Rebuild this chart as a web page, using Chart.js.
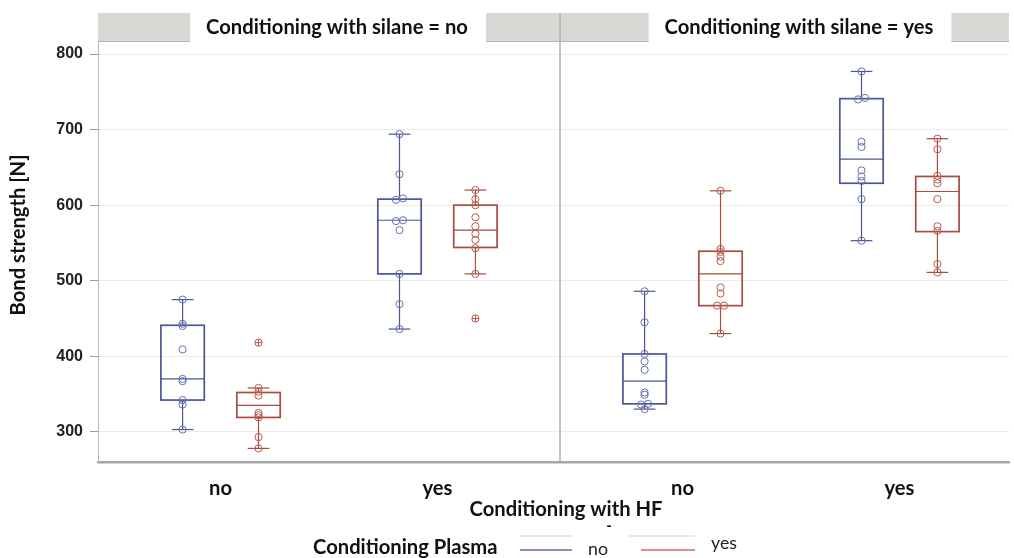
<!DOCTYPE html>
<html>
<head>
<meta charset="utf-8">
<script src="https://cdn.jsdelivr.net/npm/chart.js@4.4.0/dist/chart.umd.min.js"></script>
<style>
  html, body { margin: 0; padding: 0; background: #ffffff; }
  canvas { display: block; }
</style>
</head>
<body>
<canvas id="c" width="1014" height="558"></canvas>
<script>
// ---------------- DATA ----------------
const panelTitles = ['Conditioning with silane = no', 'Conditioning with silane = yes'];
const hfLabels = ['no', 'yes'];
const plasmaLabels = ['no', 'yes'];
const yTickValues = [300, 400, 500, 600, 700, 800];

// group order: [silane no / HF no, silane no / HF yes, silane yes / HF no, silane yes / HF yes]
const plasmaNoPoints = [
  [475, 443, 440, 409, 370, 367, 342, 336, 303],
  [694, 641, 609, 607, 580, 579, 567, 509, 469, 436],
  [486, 445, 403, 393, 382, 352, 349, 337, 336, 330],
  [777, 742, 740, 684, 677, 646, 638, 632, 608, 553]
];
const plasmaYesPoints = [
  [418, 358, 353, 348, 325, 322, 319, 293, 278],
  [620, 608, 600, 584, 572, 562, 554, 543, 509, 450],
  [619, 542, 538, 532, 526, 491, 483, 467, 467, 430],
  [688, 674, 639, 634, 629, 608, 572, 566, 522, 511]
];
const plasmaNoMin    = [303, 436, 330, 553];
const plasmaNoQ1     = [342, 509, 337, 629];
const plasmaNoMedian = [370, 580, 367, 661];
const plasmaNoQ3     = [441, 608, 403, 741];
const plasmaNoMax    = [475, 694, 486, 777];
const plasmaYesMin    = [278, 509, 430, 511];
const plasmaYesQ1     = [319, 544, 467, 565];
const plasmaYesMedian = [335, 567, 509, 618];
const plasmaYesQ3     = [352, 600, 539, 638];
const plasmaYesMax    = [358, 620, 619, 688];

// ---------------- LAYOUT / STYLE ----------------
const PANEL = 2.13, FIRST = 0.565, DODGE = 0.175, BOX_HW = 0.1, CAP_HW = 0.05, JIT = 0.016;
const X_MAX = 4.2, Y_MIN = 260, Y_MAX = 816;
const COLORS = {
  no:  { box: '#4a5597', pt: '#6570ad', legend: '#8a8fc0' },
  yes: { box: '#a74c3e', pt: '#b65b4d', legend: '#d3918a' }
};
const BOLD_FAMILY = 'Lato, "Open Sans", sans-serif';

function fitSize(text, target, weight, family) {
  const c = document.createElement('canvas').getContext('2d');
  c.font = weight + ' 100px ' + family;
  return 100 * target / c.measureText(text).width;
}
const BOLD_SIZE = fitSize('Conditioning with HF', 193, 'bold', BOLD_FAMILY);
const REG_SIZE = fitSize('yes', 26, 'normal', BOLD_FAMILY);

function groupX(g) { return Math.floor(g / 2) * PANEL + FIRST + (g % 2); }

const series = [
  { key: 'no', dodge: -DODGE, pts: plasmaNoPoints, min: plasmaNoMin, q1: plasmaNoQ1, med: plasmaNoMedian, q3: plasmaNoQ3, max: plasmaNoMax },
  { key: 'yes', dodge: DODGE, pts: plasmaYesPoints, min: plasmaYesMin, q1: plasmaYesQ1, med: plasmaYesMedian, q3: plasmaYesQ3, max: plasmaYesMax }
];

function buildPoints(s) {
  const normal = [], out = [];
  s.pts.forEach((vals, g) => {
    const cx = groupX(g) + s.dodge;
    const sorted = vals.slice().sort((a, b) => a - b);
    let i = 0;
    while (i < sorted.length) {
      let j = i;
      while (j + 1 < sorted.length && sorted[j + 1] - sorted[j] < 2.5) j++;
      const n = j - i + 1;
      for (let k = i; k <= j; k++) {
        const v = sorted[k];
        const pt = { x: cx + (k - i - (n - 1) / 2) * 2 * JIT, y: v };
        if (v > s.max[g] || v < s.min[g]) out.push(pt); else normal.push(pt);
      }
      i = j + 1;
    }
  });
  return { normal, out };
}

const datasets = [];
series.forEach(s => {
  const p = buildPoints(s);
  const c = COLORS[s.key];
  datasets.push({ label: s.key, data: p.normal, pointStyle: 'circle', pointRadius: 3.6, pointBorderWidth: 1,
    pointBorderColor: c.pt, pointBackgroundColor: 'rgba(0,0,0,0)', borderColor: c.pt });
  datasets.push({ label: s.key + ' outlier', data: p.out, pointStyle: 'circle', pointRadius: 3.6, pointBorderWidth: 1,
    pointBorderColor: c.pt, pointBackgroundColor: 'rgba(0,0,0,0)', borderColor: c.pt });
  datasets.push({ label: s.key + ' outlier cross', data: p.out, pointStyle: 'cross', pointRadius: 3.4, pointBorderWidth: 1,
    pointBorderColor: c.pt, borderColor: c.pt });
});

function seg(ctx, x1, y1, x2, y2) { ctx.beginPath(); ctx.moveTo(x1, y1); ctx.lineTo(x2, y2); ctx.stroke(); }

const boxPlugin = {
  id: 'boxes',
  beforeDatasetsDraw(chart) {
    const { ctx, scales: { x, y } } = chart;
    ctx.save();
    series.forEach(s => {
      ctx.strokeStyle = COLORS[s.key].box;
      for (let g = 0; g < s.q1.length; g++) {
        const cx = groupX(g) + s.dodge;
        const xl = x.getPixelForValue(cx - BOX_HW), xr = x.getPixelForValue(cx + BOX_HW);
        const xc = x.getPixelForValue(cx);
        const cl = x.getPixelForValue(cx - CAP_HW), cr = x.getPixelForValue(cx + CAP_HW);
        const yMin = y.getPixelForValue(s.min[g]), yQ1 = y.getPixelForValue(s.q1[g]);
        const yMed = y.getPixelForValue(s.med[g]), yQ3 = y.getPixelForValue(s.q3[g]);
        const yMax = y.getPixelForValue(s.max[g]);
        ctx.lineWidth = 1.2;
        seg(ctx, xc, yQ3, xc, yMax); seg(ctx, xc, yQ1, xc, yMin);
        seg(ctx, cl, yMax, cr, yMax); seg(ctx, cl, yMin, cr, yMin);
        ctx.lineWidth = 1.7;
        ctx.strokeRect(xl, yQ3, xr - xl, yQ1 - yQ3);
        ctx.lineWidth = 1.1;
        seg(ctx, xl, yMed, xr, yMed);
      }
    });
    ctx.restore();
  }
};

const framePlugin = {
  id: 'frame',
  afterDraw(chart) {
    const { ctx, chartArea: area, scales: { x } } = chart;
    ctx.save();
    const boldFont = 'bold ' + BOLD_SIZE.toFixed(2) + 'px ' + BOLD_FAMILY;
    // panel headers
    panelTitles.forEach((t, p) => {
      const left = x.getPixelForValue(p * PANEL);
      const fullRight = x.getPixelForValue((p + 1) * PANEL);
      const right = Math.min(fullRight, area.right);
      ctx.fillStyle = '#d8d9d4';
      ctx.fillRect(left, 13, right - left, 29);
      ctx.strokeStyle = '#b4b5b0'; ctx.lineWidth = 1;
      seg(ctx, left, 41.5, right, 41.5);
      const cx = (left + fullRight) / 2 + 8;
      ctx.font = boldFont;
      const w = ctx.measureText(t).width;
      ctx.fillStyle = '#ffffff';
      ctx.fillRect(cx - w / 2 - 16, 12, w + 34, 31);
      ctx.fillStyle = '#111111';
      ctx.textAlign = 'center'; ctx.textBaseline = 'alphabetic';
      ctx.fillText(t, cx, 34);
    });
    // panel divider
    const div = x.getPixelForValue(PANEL);
    ctx.strokeStyle = '#b0b0b0'; ctx.lineWidth = 1.5;
    seg(ctx, div, 13, div, area.bottom);
    // y title
    ctx.save();
    ctx.translate(25, 235);
    ctx.rotate(-Math.PI / 2);
    ctx.font = boldFont; ctx.fillStyle = '#111111';
    ctx.textAlign = 'center'; ctx.textBaseline = 'alphabetic';
    ctx.fillText('Bond strength [N]', 0, 0);
    ctx.restore();
    // x title
    ctx.font = boldFont; ctx.fillStyle = '#111111';
    ctx.textAlign = 'center'; ctx.textBaseline = 'alphabetic';
    ctx.fillText('Conditioning with HF', div + 6, 516);
    ctx.font = 'bold 15px ' + BOLD_FAMILY;
    ctx.fillText('-', 609, 531);
    // legend
    ctx.font = boldFont; ctx.textAlign = 'left';
    ctx.fillText('Conditioning Plasma', 313, 554);
    const legendItems = [
      { key: 'no', text: plasmaLabels[0], gx1: 520, lx1: 520, lx2: 572, tx: 588, ty: 555 },
      { key: 'yes', text: plasmaLabels[1], gx1: 629, lx1: 641, lx2: 695, tx: 711, ty: 549 }
    ];
    legendItems.forEach(it => {
      ctx.strokeStyle = '#e2e2e2'; ctx.lineWidth = 1.5;
      seg(ctx, it.gx1, 536, it.lx2, 536);
      ctx.strokeStyle = COLORS[it.key].legend; ctx.lineWidth = 2;
      seg(ctx, it.lx1, 550, it.lx2, 550);
      ctx.font = 'normal ' + REG_SIZE.toFixed(2) + 'px ' + BOLD_FAMILY;
      ctx.fillStyle = '#222222';
      ctx.fillText(it.text, it.tx, it.ty);
    });
    ctx.restore();
  }
};

const xTickPositions = [0, 1, 2, 3].map(groupX);
const xTickLabels = [hfLabels[0], hfLabels[1], hfLabels[0], hfLabels[1]];

new Chart(document.getElementById('c'), {
  type: 'scatter',
  data: { datasets },
  options: {
    responsive: false,
    animation: false,
    events: [],
    layout: { padding: { top: 42, left: 0, right: 0, bottom: 0 } },
    plugins: { legend: { display: false }, tooltip: { enabled: false } },
    scales: {
      x: {
        type: 'linear', min: 0, max: X_MAX,
        afterFit: s => { s.height = 96; },
        afterBuildTicks: s => { s.ticks = xTickPositions.map(v => ({ value: v })); },
        grid: { display: false, drawTicks: false },
        border: { display: true, color: '#a6a6a6', width: 2.5 },
        ticks: {
          autoSkip: false, maxRotation: 0, padding: 14,
          color: '#111111',
          font: { family: BOLD_FAMILY, size: BOLD_SIZE, weight: 'bold' },
          callback: (v, i) => xTickLabels[i]
        }
      },
      y: {
        type: 'linear', min: Y_MIN, max: Y_MAX,
        afterFit: s => { s.width = 98; },
        afterBuildTicks: s => { s.ticks = yTickValues.map(v => ({ value: v })); },
        grid: { color: '#ebebeb', lineWidth: 1, drawTicks: true, tickLength: 8, tickColor: '#9c9c9c' },
        border: { display: true, color: '#b8b8b8', width: 1 },
        ticks: {
          padding: 7, color: '#222222',
          font: { family: '"Liberation Sans", Arial, sans-serif', size: 16, weight: 'bold' },
          callback: v => String(v)
        }
      }
    }
  },
  plugins: [boxPlugin, framePlugin]
});
</script>
</body>
</html>
